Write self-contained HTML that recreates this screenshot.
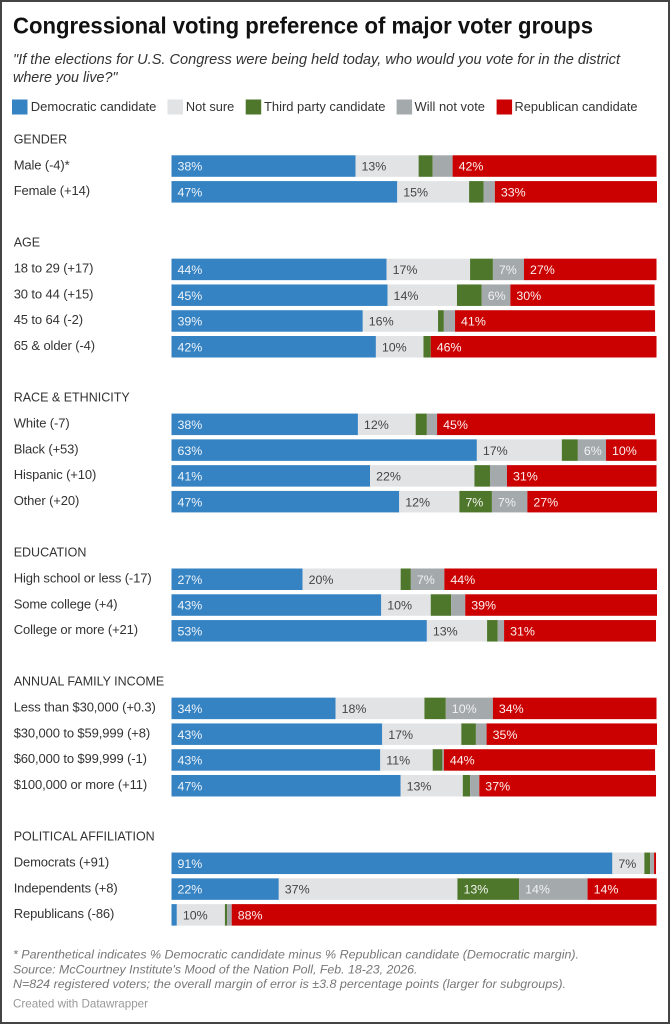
<!DOCTYPE html>
<html lang="en">
<head>
<meta charset="utf-8">
<title>Congressional voting preference of major voter groups</title>
<style>
html,body{margin:0;padding:0;background:#fff;width:670px;height:1024px;overflow:hidden}
svg{display:block;font-family:"Liberation Sans",Arial,sans-serif}
.rl{font-size:13px;fill:#333;letter-spacing:-.12px}
.gh{font-size:12.5px;fill:#333}
.vl{font-size:12.4px}
.lg{font-size:13px;fill:#333}
.ft{font-size:12.2px;fill:#777;font-style:italic}
</style>
</head>
<body>
<svg id="chart" width="670" height="1024" viewBox="0 0 670 1024" xmlns="http://www.w3.org/2000/svg">
  <rect x="0" y="0" width="670" height="1024" fill="#fff"/>
  <rect x="1" y="1" width="668" height="1022" fill="none" stroke="#444" stroke-width="2"/>
  <text x="13" y="33.5" font-size="23.5" font-weight="700" fill="#111" textLength="580" lengthAdjust="spacingAndGlyphs">Congressional voting preference of major voter groups</text>
  <text x="13" y="64" font-size="15" font-style="italic" fill="#333" textLength="607" lengthAdjust="spacingAndGlyphs">"If the elections for U.S. Congress were being held today, who would you vote for in the district</text>
  <text x="13" y="82" font-size="15" font-style="italic" fill="#333" textLength="104.5" lengthAdjust="spacingAndGlyphs">where you live?"</text>

  <g>
    <rect x="12" y="99.5" width="15.5" height="15" fill="#3583c3"/>
    <text class="lg" x="30.8" y="111" textLength="125.6" lengthAdjust="spacingAndGlyphs">Democratic candidate</text>
    <rect x="167.5" y="99.5" width="15.5" height="15" fill="#e2e3e5"/>
    <text class="lg" x="185.9" y="111" textLength="48.3" lengthAdjust="spacingAndGlyphs">Not sure</text>
    <rect x="245.7" y="99.5" width="15.5" height="15" fill="#4e772b"/>
    <text class="lg" x="264" y="111" textLength="121.5" lengthAdjust="spacingAndGlyphs">Third party candidate</text>
    <rect x="396.6" y="99.5" width="15.5" height="15" fill="#a4a9ac"/>
    <text class="lg" x="414.5" y="111" textLength="70.5" lengthAdjust="spacingAndGlyphs">Will not vote</text>
    <rect x="496.6" y="99.5" width="15.5" height="15" fill="#cb0000"/>
    <text class="lg" x="514.5" y="111" textLength="123" lengthAdjust="spacingAndGlyphs">Republican candidate</text>
  </g>

  <g id="plot"></g>

  <g>
    <text class="ft" x="13" y="958.3" textLength="566" lengthAdjust="spacingAndGlyphs">* Parenthetical indicates % Democratic candidate minus % Republican candidate (Democratic margin).</text>
    <text class="ft" x="13" y="973.3" textLength="404.5" lengthAdjust="spacingAndGlyphs">Source: McCourtney Institute's Mood of the Nation Poll, Feb. 18-23, 2026.</text>
    <text class="ft" x="13" y="988" textLength="553" lengthAdjust="spacingAndGlyphs">N=824 registered voters; the overall margin of error is ±3.8 percentage points (larger for subgroups).</text>
    <text x="13" y="1007.7" font-size="12" fill="#999" textLength="135" lengthAdjust="spacingAndGlyphs">Created with Datawrapper</text>
  </g>
</svg>
<script>
const groupNames = ["GENDER","AGE","RACE & ETHNICITY","EDUCATION","ANNUAL FAMILY INCOME","POLITICAL AFFILIATION"];
const groupSizes = [2,4,4,3,4,3];
const rowLabels = ["Male (-4)*","Female (+14)","18 to 29 (+17)","30 to 44 (+15)","45 to 64 (-2)","65 & older (-4)","White (-7)","Black (+53)","Hispanic (+10)","Other (+20)","High school or less (-17)","Some college (+4)","College or more (+21)","Less than $30,000 (+0.3)","$30,000 to $59,999 (+8)","$60,000 to $99,999 (-1)","$100,000 or more (+11)","Democrats (+91)","Independents (+8)","Republicans (-86)"];
const democratic = [37.9,46.5,44.3,44.5,39.4,42.1,38.4,62.9,40.9,46.9,27.0,43.2,52.6,33.8,43.4,43.0,47.2,90.8,22.1,1.1];
const notSure = [13.0,14.8,17.2,14.3,15.5,9.8,11.9,17.5,21.5,12.4,20.2,10.2,12.4,18.3,16.3,10.8,12.8,6.6,36.8,9.9];
const thirdParty = [2.9,3.0,4.7,5.1,1.2,1.5,2.3,3.3,3.2,6.7,2.1,4.2,2.2,4.4,3.0,2.0,1.5,1.2,12.7,0.45];
const willNotVote = [4.1,2.3,6.4,5.9,2.3,0,2.1,5.8,3.5,7.3,6.9,2.9,1.3,9.7,2.2,0.3,1.9,0.8,14.1,0.95];
const republican = [42.0,33.4,27.3,29.7,41.2,46.5,44.9,10.4,30.8,26.7,43.8,39.5,31.3,33.7,35.1,43.5,36.4,0.4,14.25,87.5];
const democraticLabels = ["38%","47%","44%","45%","39%","42%","38%","63%","41%","47%","27%","43%","53%","34%","43%","43%","47%","91%","22%",""];
const notSureLabels = ["13%","15%","17%","14%","16%","10%","12%","17%","22%","12%","20%","10%","13%","18%","17%","11%","13%","7%","37%","10%"];
const thirdPartyLabels = ["","","","","","","","","","7%","","","","","","","","","13%",""];
const willNotVoteLabels = ["","","7%","6%","","","","6%","","7%","7%","","","10%","","","","","14%",""];
const republicanLabels = ["42%","33%","27%","30%","41%","46%","45%","10%","31%","27%","44%","39%","31%","34%","35%","44%","37%","","14%","88%"];

const seriesValues = [democratic, notSure, thirdParty, willNotVote, republican];
const seriesLabels = [democraticLabels, notSureLabels, thirdPartyLabels, willNotVoteLabels, republicanLabels];
const seriesKeys = ["democratic","not-sure","third-party","will-not-vote","republican"];
const seriesFill = ["#3583c3","#e2e3e5","#4e772b","#a4a9ac","#cb0000"];
const labelFill = ["#eef4fa","#444","#f2f5ee","#f0f1f2","#fdf0f0"];

const NS = "http://www.w3.org/2000/svg";
const plot = document.getElementById("plot");
const xScale = v => v * 4.855;
const rowTop = (rowIndex, groupIndex) => 155.3 + rowIndex * 25.78 + groupIndex * 51.8;
const barHeight = 21.5;

function make(tag, attrs, text) {
  const el = document.createElementNS(NS, tag);
  for (const k in attrs) el.setAttribute(k, attrs[k]);
  if (text !== undefined) el.textContent = text;
  return el;
}

let rowIndex = 0;
groupNames.forEach((groupName, g) => {
  const header = make("text", {class: "gh", x: 13.7, y: rowTop(rowIndex, g) - 12}, groupName);
  
  
  plot.appendChild(header);
  for (let r = 0; r < groupSizes[g]; r++, rowIndex++) {
    const top = rowTop(rowIndex, g);
    const label = make("text", {class: "rl", x: 13.7, y: top + 14}, rowLabels[rowIndex]);
    
    
    plot.appendChild(label);
    let cumulative = 0;
    seriesValues.forEach((values, s) => {
      const v = values[rowIndex];
      const x = 171.5 + xScale(cumulative);
      if (v > 0) {
        const seg = make("rect", {x: x, y: top, width: xScale(v), height: barHeight, fill: seriesFill[s]});
        
        
        plot.appendChild(seg);
      }
      const printed = seriesLabels[s][rowIndex];
      if (printed) {
        const t = make("text", {class: "vl", x: x + 6, y: top + 15.4, fill: labelFill[s]}, printed);
        
        
        plot.appendChild(t);
      }
      cumulative += v;
    });
  }
});
</script>
</body>
</html>
